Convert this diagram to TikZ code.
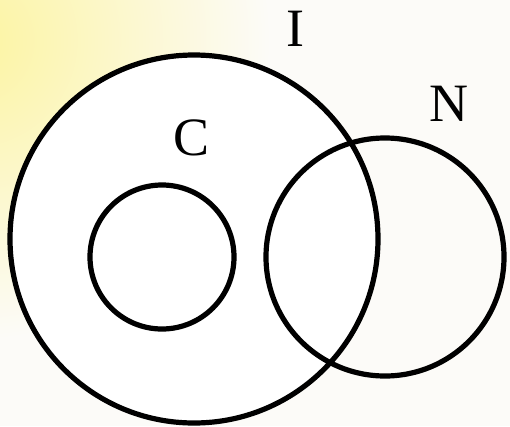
\documentclass[tikz,border=0pt]{standalone}
\usepackage{fontspec}
\setmainfont{Liberation Serif}
\definecolor{bgwhite}{RGB}{252,251,248}
\definecolor{bgyellow}{RGB}{252,244,160}
\tikzset{
  setline/.style={draw=black, line width=5.2pt},
  setlabel/.style={inner sep=0pt, font=\fontsize{54}{58}\selectfont}
}
\begin{document}
\begin{tikzpicture}[x=1pt,y=-1pt]
  \useasboundingbox (0,0) rectangle (510,426);
  \fill[bgwhite] (0,0) rectangle (510,426);
  \begin{scope}
    \clip (0,0) rectangle (510,426);
    \shade[inner color=bgyellow, outer color=bgwhite] (-30,40) circle (300pt);
  \end{scope}
  % sets
  \path[setline, fill=white] (194,239) circle (184pt);
  \path[setline] (162,257) circle (72pt);
  \path[setline] (385,257) circle (119pt);
  % labels
  \node[setlabel] (labI) at (295,29) {I};
  \node[setlabel] (labN) at (449,104) {N};
  \node[setlabel] (labC) at (192,138) {C};
\end{tikzpicture}
\end{document}
